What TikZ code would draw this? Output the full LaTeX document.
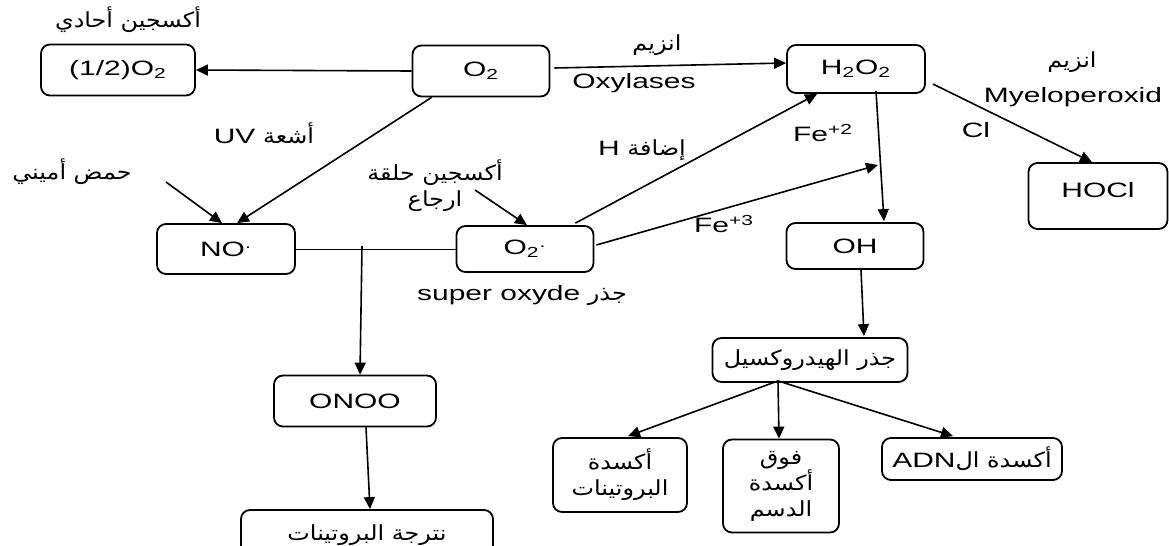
\documentclass[tikz,border=0pt]{standalone}
\usepackage{fontspec}
\setmainfont[FakeStretch=1.44]{Liberation Sans}
\newfontfamily\arfont[Script=Arabic,FakeStretch=1.15]{DejaVu Sans}
\TeXXeTstate=1
\usetikzlibrary{arrows.meta,calc}
\newcommand\AR[1]{{\arfont\beginR #1\endR}}
\newcommand\LT[1]{\beginL{\rmfamily #1}\endL}
\begin{document}
\begin{tikzpicture}[x=0.5pt,y=-0.5pt,
  font=\fontsize{10.4}{13}\selectfont,
  box/.style={draw,rounded corners=4.5pt,line width=0.9pt,inner sep=0pt,align=center},
  conn/.style={line width=0.8pt},
  thin conn/.style={line width=0.45pt},
  arr/.style={conn,-{Triangle[length=6pt,width=5.5pt]}},
  lbl/.style={inner sep=0pt,align=center}]
\useasboundingbox (0,0) rectangle (1169,546);
\clip (0,0) rectangle (1169,546);
% boxes
\node[box,minimum width=77pt,minimum height=25.5pt] (half) at (118,70) {(1/2)O\textsubscript{2}};
\node[box,minimum width=68.5pt,minimum height=25.5pt] (o2) at (481,71) {O\textsubscript{2}};
\node[box,minimum width=69pt,minimum height=24pt] (h2o2) at (856,69) {H\textsubscript{2}O\textsubscript{2}};
\node[box,minimum width=69.5pt,minimum height=33pt] (hocl) at (1098,196) {};
\node[lbl] (hocltxt) at (1098,190) {HOCl};
\node[box,minimum width=69pt,minimum height=25pt] (no) at (226,249) {NO\textsuperscript{.}};
\node[box,minimum width=68.5pt,minimum height=23pt] (o2r) at (525,249) {O\textsubscript{2}\textsuperscript{.}};
\node[box,minimum width=68.5pt,minimum height=23pt] (oh) at (855,246) {OH};
\node[box,minimum width=97.5pt,minimum height=22pt] (hyd) at (810,360) {\AR{جذر الهيدروكسيل}};
\node[box,minimum width=67pt,minimum height=37pt] (prot) at (620,475) {\AR{أكسدة}\\\AR{البروتينات}};
\node[box,minimum width=58pt,minimum height=46.5pt] (lip) at (781,486) {\AR{فوق}\\\AR{أكسدة}\\\AR{الدسم}};
\node[box,minimum width=90pt,minimum height=21pt] (adn) at (972,459) {\AR{أكسدة ال\LT{ADN}}};
\node[box,minimum width=81pt,minimum height=25.5pt] (onoo) at (355,401) {ONOO};
\node[box,minimum width=126pt,minimum height=25pt] (nit) at (367,535) {\AR{نترجة البروتينات}};
% labels
\node[lbl] (l1) at (128,20) {\AR{أكسجين أحادي}};
\node[lbl] (l2) at (657,45) {\AR{انزيم}};
\node[lbl] (l3) at (634,83) {Oxylases};
\node[lbl] (l4) at (264,133) {\AR{أشعة \LT{UV}}};
\node[lbl] (l5) at (72,172) {\AR{حمض أميني}};
\node[lbl] (l6) at (435,186) {\AR{أكسجين حلقة}\\\AR{ارجاع}};
\node[lbl] (l7) at (522,296) {\AR{جذر \LT{super oxyde}}};
\node[lbl] (l8) at (642,150) {\AR{إضافة \LT{H}}};
\node[lbl] (l9) at (823,133) {Fe\textsuperscript{+2}};
\node[lbl] (l10) at (724,224) {Fe\textsuperscript{+3}};
\node[lbl] (l11) at (1072,62) {\AR{انزيم}};
\node[lbl] (l12) at (1073,97) {Myeloperoxid};
\node[lbl] (l13) at (976,130) {Cl};
% free ends
\coordinate (aa) at (166,182);
\coordinate (ring) at (475,190);
\coordinate (jn) at (362,246);
\coordinate (fe) at (878,165);
% connectors
\draw[arr] (o2.west) -- (half.east);
\draw[arr] ($(o2.east)+(4,-3)$) -- ($(h2o2.west)+(0,-6)$);
\draw[arr] ($(o2.south west)+(20,0)$) -- ($(no.north)+(11,0)$);
\draw[arr] (aa) -- ($(no.north)+(-4,0)$);
\draw[thin conn] (no.east) -- (o2r.west);
\draw[arr] (jn) -- ($(onoo.north)+(5,0)$);
\draw[arr] ($(onoo.south)+(11,0)$) -- ($(nit.north)+(3,0)$);
\draw[arr] (ring) -- ($(o2r.north)+(2,0)$);
\draw[arr] ($(o2r.north east)+(-19,-2)$) -- ($(h2o2.south west)+(31,0)$);
\draw[arr] ($(o2r.east)+(2,-4)$) -- (fe);
\draw[arr] ($(h2o2.south)+(20,-3)$) -- ($(oh.north)+(29,-1)$);
\draw[arr] ($(h2o2.east)+(7,15)$) -- ($(hocl.north)+(-6,0)$);
\draw[arr] ($(oh.south)+(6,0)$) -- ($(hyd.north)+(54,-1)$);
\draw[arr] ($(hyd.south)+(-32,-2)$) -- ($(prot.north)+(8,-1)$);
\draw[arr] ($(hyd.south)+(-32,-2)$) -- ($(lip.north)+(-2,0)$);
\draw[arr] ($(hyd.south)+(-32,-2)$) -- ($(adn.north)+(-19,-1)$);
\end{tikzpicture}
\end{document}
